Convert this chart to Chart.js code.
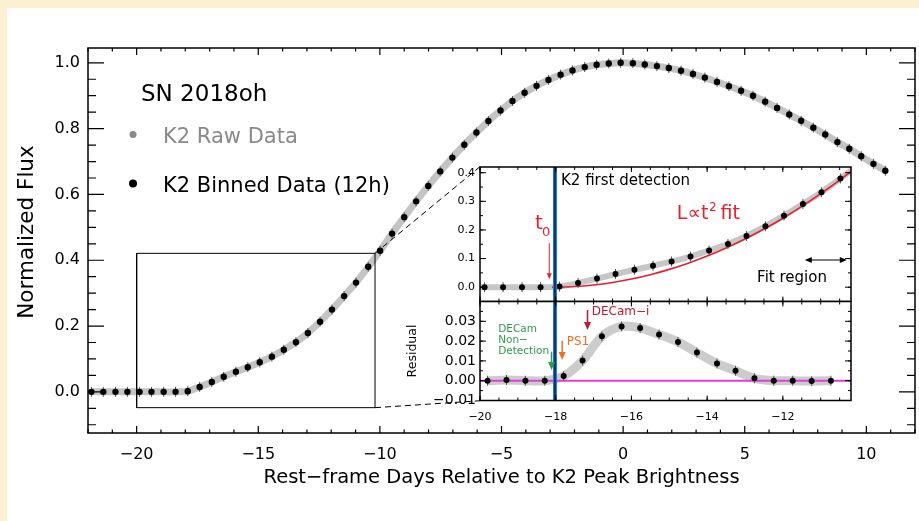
<!DOCTYPE html>
<html><head><meta charset="utf-8">
<script src="https://cdn.jsdelivr.net/npm/chart.js@4.4.0/dist/chart.umd.min.js"></script>
<style>
html,body{margin:0;padding:0;}
body{width:919px;height:521px;background:#fcf0d2;position:relative;overflow:hidden;}
#paper{position:absolute;left:7px;top:8px;width:912px;height:513px;background:#fff;}
canvas{position:absolute;}
#main{left:0;top:0;}
#insTop{left:400px;top:150px;}
#insBot{left:400px;top:300px;}
</style></head>
<body>
<div id="paper"></div>
<canvas id="main" width="919" height="521"></canvas>
<canvas id="insTop" width="470" height="152"></canvas>
<canvas id="insBot" width="470" height="130"></canvas>
<script>
// ---------------- data ----------------
const binDays = [-21.86,-21.37,-20.87,-20.38,-19.88,-19.39,-18.89,-18.40,-17.90,-17.41,
  -16.91,-16.42,-15.92,-15.43,-14.94,-14.44,-13.95,-13.45,-12.96,-12.46,
  -11.97,-11.47,-10.98,-10.48,-9.99,-9.50,-9.00,-8.51,-8.01,-7.52,
  -7.02,-6.53,-6.03,-5.54,-5.04,-4.55,-4.05,-3.56,-3.07,-2.57,
  -2.08,-1.58,-1.09,-0.59,-0.10,0.40,0.89,1.39,1.88,2.38,
  2.87,3.36,3.86,4.35,4.85,5.34,5.84,6.33,6.83,7.32,
  7.82,8.31,8.81,9.30,9.79,10.29,10.78];
const binFlux = [0,0,0,0,0,0,0,0,0.002,0.015,
  0.030,0.046,0.061,0.075,0.090,0.107,0.128,0.151,0.179,0.213,
  0.250,0.291,0.332,0.380,0.429,0.481,0.531,0.579,0.626,0.670,
  0.712,0.751,0.788,0.823,0.855,0.884,0.909,0.930,0.948,0.964,
  0.977,0.987,0.994,0.998,1.000,0.999,0.995,0.990,0.984,0.976,
  0.966,0.955,0.942,0.929,0.915,0.900,0.882,0.863,0.843,0.824,
  0.803,0.782,0.759,0.739,0.716,0.693,0.672];

const resDays = [-19.80,-19.30,-18.80,-18.29,-17.79,-17.29,-16.78,-16.26,-15.77,-15.27,
  -14.77,-14.27,-13.74,-13.25,-12.75,-12.24,-11.74,-11.24,-10.73];
const resVals = [0.0000,0.0004,0.0000,0.0000,0.0024,0.0102,0.0224,0.0274,0.0266,0.0233,
  0.0196,0.0142,0.0087,0.0050,0.0012,0.0000,0.0000,-0.0002,0.0000];

const fitDays = [-18.1,-17.5,-17.0,-16.5,-16.0,-15.5,-15.0,-14.5,-14.0,-13.5,-13.0,-12.5,-12.0,-11.5,-11.0,-10.5,-10.2];
const fitFlux = [0,0.0023,0.0078,0.0166,0.0286,0.0438,0.0623,0.0840,0.1089,0.1371,0.1685,0.2032,0.2411,0.2823,0.3267,0.3743,0.4044];

const firstDetDay = -18.02;          // K2 first detection
const boxDays = [-20,-10.2,-10.2,-20,-20];
const boxFlux = [-0.048,-0.048,0.421,0.421,-0.048];
const dashHiDays = [-10.2,-5.89], dashHiFlux = [0.421,0.684];
const dashLoDays = [-10.2,-5.89], dashLoFlux = [-0.048,-0.027];
const zeroDays = [-20,-10.2], zeroVals = [0,0];

// tick labels
const mainXTicks = [-20,-15,-10,-5,0,5,10];
const mainXTickLabels = ['−20','−15','−10','−5','0','5','10'];
const mainYTicks = [0,0.2,0.4,0.6,0.8,1.0];
const mainYTickLabels = ['0.0','0.2','0.4','0.6','0.8','1.0'];
const topYTicks = [0,0.1,0.2,0.3,0.4];
const topYTickLabels = ['0.0','0.1','0.2','0.3','0.4'];
const botYTicks = [-0.01,0,0.01,0.02,0.03];
const botYTickLabels = ['−0.01','0.00','0.01','0.02','0.03'];
const insXTicks = [-20,-18,-16,-14,-12];
const insXTickLabels = ['−20','−18','−16','−14','−12'];

// ---------------- helpers ----------------
const FONT = "'DejaVu Sans', sans-serif";
Chart.defaults.font.family = FONT;
Chart.defaults.color = '#000';
const pts = (xs, ys) => xs.map((x, i) => ({x, y: ys[i]}));

function tickValues(min, max, step) {
  const out = [];
  for (let i = Math.ceil(min / step - 1e-6); i * step <= max + 1e-9; i++) out.push(i * step);
  return out;
}

const frameTicks = {
  id: 'frameTicks',
  afterDatasetsDraw(chart, args, o) {
    const {ctx, chartArea: a, scales: {x, y}} = chart;
    ctx.save();
    ctx.strokeStyle = '#000';
    ctx.lineWidth = o.tw || 1;
    ctx.beginPath();
    for (const [step, len] of [[o.xMinor, o.xMinLen], [o.xMajor, o.xMajLen]]) {
      for (const v of tickValues(x.min, x.max, step)) {
        const p = x.getPixelForValue(v);
        ctx.moveTo(p, a.bottom); ctx.lineTo(p, a.bottom - len);
        ctx.moveTo(p, a.top); ctx.lineTo(p, a.top + len);
      }
    }
    for (const [step, len] of [[o.yMinor, o.yMinLen], [o.yMajor, o.yMajLen]]) {
      for (const v of tickValues(y.min, y.max, step)) {
        const p = y.getPixelForValue(v);
        ctx.moveTo(a.left, p); ctx.lineTo(a.left + len, p);
        ctx.moveTo(a.right, p); ctx.lineTo(a.right - len, p);
      }
    }
    ctx.stroke();
    ctx.lineWidth = o.lw;
    ctx.strokeRect(a.left, a.top, a.right - a.left, a.bottom - a.top);
    ctx.restore();
  }
};

const whiteArea = {
  id: 'whiteArea',
  beforeDraw(chart) {
    const {ctx, chartArea: a} = chart;
    ctx.save(); ctx.fillStyle = '#fff';
    ctx.fillRect(a.left, a.top, a.right - a.left, a.bottom - a.top);
    ctx.restore();
  }
};

function arrowDown(ctx, x, y1, y2, color, hw, hl, lw) {
  ctx.save();
  ctx.strokeStyle = color; ctx.fillStyle = color; ctx.lineWidth = lw;
  ctx.beginPath(); ctx.moveTo(x, y1); ctx.lineTo(x, y2 - hl + 1); ctx.stroke();
  ctx.beginPath(); ctx.moveTo(x - hw, y2 - hl); ctx.lineTo(x + hw, y2 - hl); ctx.lineTo(x, y2); ctx.closePath(); ctx.fill();
  ctx.restore();
}
function text(ctx, s, x, y, size, color, align) {
  ctx.save();
  ctx.font = size + 'px ' + FONT; ctx.fillStyle = color;
  ctx.textAlign = align || 'left'; ctx.textBaseline = 'middle';
  ctx.fillText(s, x, y);
  ctx.restore();
}

function linScale(min, max, ticks, labels, fontSize, pad, fit, extra) {
  return Object.assign({
    type: 'linear', min, max,
    grid: {display: false, drawTicks: false},
    border: {display: false},
    afterBuildTicks: s => { s.ticks = ticks.map(v => ({value: v})); },
    afterFit: s => { fit(s); s.paddingTop = 0; s.paddingBottom = 0; s.paddingLeft = 0; s.paddingRight = 0; },
    ticks: {autoSkip: false, maxRotation: 0, minRotation: 0, padding: pad,
            font: {size: fontSize}, color: '#000',
            display: labels !== null,
            callback: (v, i) => labels ? labels[i] : ''}
  }, extra || {});
}

const common = {responsive: false, animation: false, events: [],
  plugins: {legend: {display: false}, tooltip: {enabled: false}}};

// ---------------- main chart ----------------
const yTitle = 'Normalized Flux';
const mainLegend = {
  id: 'mainLegend',
  afterDraw(chart) {
    const ctx = chart.ctx;
    text(ctx, 'SN 2018oh', 141, 95, 23, '#000');
    ctx.save();
    ctx.fillStyle = '#8a8a8a'; ctx.beginPath(); ctx.arc(133, 134.5, 3.5, 0, 2 * Math.PI); ctx.fill();
    ctx.fillStyle = '#000'; ctx.beginPath(); ctx.arc(133, 183.5, 4, 0, 2 * Math.PI); ctx.fill();
    ctx.restore();
    text(ctx, chart.data.datasets[0].label, 163, 138, 21, '#8a8a8a');
    text(ctx, chart.data.datasets[2].label, 163, 187, 21, '#000');
    // y axis title
    ctx.save();
    ctx.translate(27, 232); ctx.rotate(-Math.PI / 2);
    text(ctx, yTitle, 0, 0, 21.5, '#000', 'center');
    ctx.restore();
  }
};

new Chart(document.getElementById('main'), {
  type: 'scatter',
  data: {datasets: [
    {label: 'K2 Raw Data', data: pts(binDays, binFlux), showLine: true, borderColor: '#c4c4c4',
     borderWidth: 7, pointRadius: 0, tension: 0.3, order: 6},
    {label: 'errors', data: pts(binDays, binFlux), showLine: false, pointStyle: 'line', rotation: 90,
     pointRadius: 5, borderColor: '#555', borderWidth: 1, order: 5},
    {label: 'K2 Binned Data (12h)', data: pts(binDays, binFlux), showLine: false, pointRadius: 3.2,
     backgroundColor: '#000', borderWidth: 0, order: 4},
    {label: 'zoom box', data: pts(boxDays, boxFlux), showLine: true, borderColor: '#000', borderWidth: 1,
     pointRadius: 0, order: 3},
    {label: 'dash hi', data: pts(dashHiDays, dashHiFlux), showLine: true, borderColor: '#000', borderWidth: 1,
     borderDash: [6, 4], pointRadius: 0, order: 2},
    {label: 'dash lo', data: pts(dashLoDays, dashLoFlux), showLine: true, borderColor: '#000', borderWidth: 1,
     borderDash: [6, 4], pointRadius: 0, order: 2}
  ]},
  options: Object.assign({}, common, {
    layout: {autoPadding: false, padding: {left: 8, right: 4, top: 48, bottom: 28}},
    plugins: Object.assign({}, common.plugins, {
      frameTicks: {lw: 1.5, tw: 1.2, xMajor: 5, xMinor: 1, xMajLen: 7, xMinLen: 3.5,
                   yMajor: 0.2, yMinor: 0.05, yMajLen: 16, yMinLen: 8}}),
    scales: {
      x: linScale(-22, 12, mainXTicks, mainXTickLabels, 16, 12, s => { s.height = 60; },
        {title: {display: true, text: 'Rest−frame Days Relative to K2 Peak Brightness',
                 font: {size: 19.5}, color: '#000', padding: {top: 0, bottom: 3}}}),
      y: linScale(-0.125, 1.045, mainYTicks, mainYTickLabels, 16, 8, s => { s.width = 80; })
    }
  }),
  plugins: [frameTicks, mainLegend]
});

// ---------------- inset: top panel ----------------
const topNotes = {
  id: 'topNotes',
  afterDraw(chart) {
    const {ctx, scales: {x, y}} = chart;
    const X = v => x.getPixelForValue(v), Y = v => y.getPixelForValue(v);
    const red = '#e8202e';
    text(ctx, 'K2 first detection', X(-17.86), Y(0.371), 15, '#000');
    text(ctx, 't', X(-18.55), Y(0.222), 20, red);
    text(ctx, '0', X(-18.55) + 7, Y(0.190), 13, red);
    arrowDown(ctx, X(-18.17), Y(0.154), Y(0.028), red, 2.5, 6, 1);
    ctx.save();
    ctx.font = '19px ' + FONT;
    const w1 = ctx.measureText('L∝t').width;
    ctx.restore();
    const lx = X(-14.80), ly = Y(0.255);
    text(ctx, 'L∝t', lx, ly, 19, red);
    text(ctx, '2', lx + w1 + 0.5, ly - 6, 12, red);
    text(ctx, 'fit', lx + w1 + 12, ly, 19, red);
    text(ctx, 'Fit region', X(-12.68), Y(0.032), 15, '#000');
    const ax1 = X(-11.42), ax2 = X(-10.31), ay = Y(0.095);
    ctx.save();
    ctx.strokeStyle = '#000'; ctx.fillStyle = '#000'; ctx.lineWidth = 1.2;
    ctx.beginPath(); ctx.moveTo(ax1 + 4, ay); ctx.lineTo(ax2 - 4, ay); ctx.stroke();
    ctx.beginPath(); ctx.moveTo(ax1, ay); ctx.lineTo(ax1 + 7, ay - 3); ctx.lineTo(ax1 + 7, ay + 3); ctx.closePath(); ctx.fill();
    ctx.beginPath(); ctx.moveTo(ax2, ay); ctx.lineTo(ax2 - 7, ay - 3); ctx.lineTo(ax2 - 7, ay + 3); ctx.closePath(); ctx.fill();
    ctx.restore();
  }
};

new Chart(document.getElementById('insTop'), {
  type: 'scatter',
  data: {datasets: [
    {label: 'raw', data: pts(binDays, binFlux), showLine: true, borderColor: '#c6c6c6', borderWidth: 6,
     pointRadius: 0, tension: 0.3, clip: 0, order: 9},
    {label: 'fit', data: pts(fitDays, fitFlux), showLine: true, borderColor: '#e8202e', borderWidth: 1.6,
     pointRadius: 0, cubicInterpolationMode: 'monotone', clip: 0, order: 8},
    {label: 'errors', data: pts(binDays, binFlux), showLine: false, pointStyle: 'line', rotation: 90,
     pointRadius: 5, borderColor: '#555', borderWidth: 1, clip: 0, order: 7},
    {label: 'binned', data: pts(binDays, binFlux), showLine: false, pointRadius: 3, backgroundColor: '#000',
     borderWidth: 0, clip: 0, order: 6},
    {label: 'first detection', data: pts([firstDetDay, firstDetDay], [-0.05, 0.42]), showLine: true,
     borderColor: '#1f78d1', borderWidth: 4, pointRadius: 0, clip: 0, order: 2},
    {label: 'first detection core', data: pts([firstDetDay, firstDetDay], [-0.05, 0.42]), showLine: true,
     borderColor: '#0b2448', borderWidth: 1.5, pointRadius: 0, clip: 0, order: 1}
  ]},
  options: Object.assign({}, common, {
    layout: {autoPadding: false, padding: {left: 0, right: 19, top: 17, bottom: 0.5}},
    plugins: Object.assign({}, common.plugins, {
      frameTicks: {lw: 1.5, tw: 1, xMajor: 2, xMinor: 0.5, xMajLen: 5, xMinLen: 3,
                   yMajor: 0.1, yMinor: 0.05, yMajLen: 6, yMinLen: 3}}),
    scales: {
      x: linScale(-20, -10.2, insXTicks, null, 11, 0, s => { s.height = 0; }),
      y: linScale(-0.05, 0.42, topYTicks, topYTickLabels, 11, 5, s => { s.width = 80; })
    }
  }),
  plugins: [whiteArea, frameTicks, topNotes]
});

// ---------------- inset: residual panel ----------------
const botNotes = {
  id: 'botNotes',
  afterDraw(chart) {
    const {ctx, scales: {x, y}} = chart;
    const X = v => x.getPixelForValue(v), Y = v => y.getPixelForValue(v);
    const green = '#2f9a4c', orange = '#f07022', red = '#c8152f';
    text(ctx, 'DECam', X(-19.52), Y(0.0260), 10.5, green);
    text(ctx, 'Non−', X(-19.52), Y(0.0206), 10.5, green);
    text(ctx, 'Detection', X(-19.52), Y(0.0150), 10.5, green);
    arrowDown(ctx, X(-18.11), Y(0.0146), Y(0.0054), green, 3.5, 8, 1.5);
    text(ctx, 'PS1', X(-17.71), Y(0.0197), 12, orange);
    arrowDown(ctx, X(-17.83), Y(0.0202), Y(0.0105), orange, 3.5, 8, 1.5);
    text(ctx, 'DECam−i', X(-17.05), Y(0.0348), 12, red);
    arrowDown(ctx, X(-17.16), Y(0.0357), Y(0.0256), red, 3.5, 8, 1.5);
  }
};

new Chart(document.getElementById('insBot'), {
  type: 'scatter',
  data: {datasets: [
    {label: 'raw residual', data: pts(resDays, resVals), showLine: true, borderColor: '#cccccc', borderWidth: 9,
     pointRadius: 0, tension: 0.3, clip: 0, order: 9},
    {label: 'zero', data: pts(zeroDays, zeroVals), showLine: true, borderColor: '#dc3fdc', borderWidth: 2,
     pointRadius: 0, clip: 0, order: 8},
    {label: 'errors', data: pts(resDays, resVals), showLine: false, pointStyle: 'line', rotation: 90,
     pointRadius: 5, borderColor: '#555', borderWidth: 1, clip: 0, order: 7},
    {label: 'residual', data: pts(resDays, resVals), showLine: false, pointRadius: 3, backgroundColor: '#000',
     borderWidth: 0, clip: 0, order: 6},
    {label: 'first detection', data: pts([firstDetDay, firstDetDay], [-0.01, 0.04]), showLine: true,
     borderColor: '#1f78d1', borderWidth: 4, pointRadius: 0, clip: 0, order: 2},
    {label: 'first detection core', data: pts([firstDetDay, firstDetDay], [-0.01, 0.04]), showLine: true,
     borderColor: '#0b2448', borderWidth: 1.5, pointRadius: 0, clip: 0, order: 1}
  ]},
  options: Object.assign({}, common, {
    layout: {autoPadding: false, padding: {left: 0, right: 19, top: 1.5, bottom: 0}},
    plugins: Object.assign({}, common.plugins, {
      frameTicks: {lw: 1.5, tw: 1, xMajor: 2, xMinor: 0.5, xMajLen: 5, xMinLen: 3,
                   yMajor: 0.01, yMinor: 0.005, yMajLen: 6, yMinLen: 3}}),
    scales: {
      x: linScale(-20, -10.2, insXTicks, insXTickLabels, 11, 10, s => { s.height = 29.5; }),
      y: linScale(-0.01, 0.04, botYTicks, botYTickLabels, 14, 4, s => { s.width = 80; },
        {title: {display: true, text: 'Residual', font: {size: 12.5}, color: '#000',
                 padding: {top: 5.5, bottom: 0}}})
    }
  }),
  plugins: [whiteArea, frameTicks, botNotes]
});
</script>
</body></html>
